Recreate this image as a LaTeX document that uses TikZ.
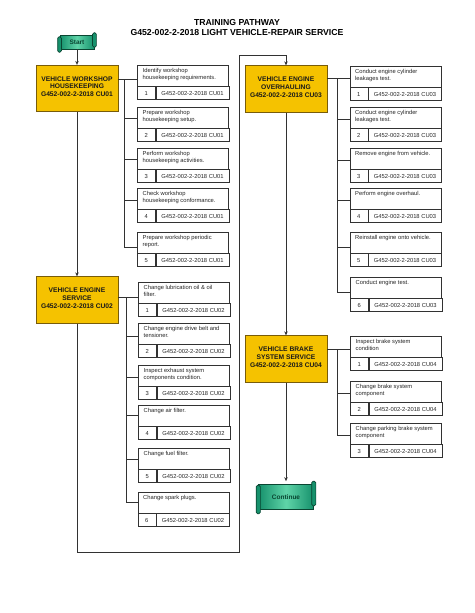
\documentclass[tikz,border=0pt]{standalone}
\usepackage{fontspec}
\setmainfont{Liberation Sans}
\usetikzlibrary{arrows.meta,calc}

\definecolor{gold}{RGB}{245,194,0}
\definecolor{goldline}{RGB}{120,92,10}
\definecolor{lineg}{RGB}{50,50,50}
\definecolor{tealA}{RGB}{22,145,108}
\definecolor{tealB}{RGB}{95,212,168}
\definecolor{tealD}{RGB}{10,70,50}

\tikzset{
 mainbox/.style={draw=goldline, fill=gold, line width=0.8pt, minimum width=82pt, minimum height=46.5pt, inner sep=0pt},
 maintext/.style={align=center, font=\fontsize{6.7}{7.7}\selectfont\bfseries, text=black!90, inner sep=0pt},
 headbox/.style={draw=lineg, line width=0.7pt, minimum width=91pt, minimum height=20.5pt, anchor=north west, inner sep=0pt},
 headtext/.style={anchor=north west, align=left, font=\fontsize{5.8}{7}\selectfont, text=black!85, inner sep=0pt},
 numbox/.style={draw=lineg, line width=0.7pt, minimum width=18pt, minimum height=13pt, anchor=north west, inner sep=0pt, font=\fontsize{5.8}{7}\selectfont, text=black!85},
 codebox/.style={draw=lineg, line width=0.7pt, minimum width=73pt, minimum height=13pt, anchor=north west, inner sep=0pt, font=\fontsize{5.8}{7}\selectfont, text=black!85},
 conn/.style={draw=lineg, line width=0.7pt},
 arr/.style={conn, -{Stealth[length=4pt,width=3.5pt]}},
 scrollbody/.style={draw=tealD, line width=0.7pt, left color=tealA, right color=tealA, middle color=tealB, font=\fontsize{6.5}{7.5}\selectfont\bfseries, text=tealD, inner sep=0pt},
 roll/.style={draw=tealD, line width=0.7pt, fill=tealA, rounded corners=1.6pt},
}

\newcommand\mytask[7]{%
 \node[headbox] (#1) at (#2,#3) {};
 \node[headtext] (#1t) at ([xshift=5.5pt,yshift=-3.5pt]#1.north west) {#4};
 \node[numbox] (#1n) at (#1.south west) {#5};
 \node[codebox] (#1c) at (#1n.north east) {#6};
 \coordinate (#1p) at ([yshift=-#7pt]#1.north west);
}

\begin{document}
\begin{tikzpicture}[x=1pt,y=-1pt]
\useasboundingbox[fill=white] (0,0) rectangle (474,613);

% title
\node[align=center, font=\fontsize{8.7}{10}\selectfont\bfseries, inner sep=0pt] (title) at (237,27.5)
 {TRAINING PATHWAY\\G452-002-2-2018 LIGHT VEHICLE-REPAIR SERVICE};

% start scroll
\node[scrollbody, minimum width=34pt, minimum height=14pt] (start) at (77,42) {Start};
\draw[roll] ([xshift=-2pt,yshift=-2pt]start.north west) rectangle ([xshift=1.8pt,yshift=-3pt]start.south west);
\draw[roll] ([xshift=-1.8pt,yshift=2pt]start.north east) rectangle ([xshift=2pt,yshift=2pt]start.south east);

% main boxes
\node[mainbox] (cu01) at (77,88.5) {};
\node[maintext] (cu01t) at ([yshift=2pt]cu01.center) {VEHICLE WORKSHOP\\HOUSEKEEPING\\G452-002-2-2018 CU01};
\node[mainbox] (cu02) at (77,300) {};
\node[maintext] (cu02t) at ([yshift=2pt]cu02.center) {VEHICLE ENGINE\\SERVICE\\G452-002-2-2018 CU02};
\node[mainbox] (cu03) at (286,89) {};
\node[maintext] (cu03t) at ([yshift=2pt]cu03.center) {VEHICLE ENGINE\\OVERHAULING\\G452-002-2-2018 CU03};
\node[mainbox] (cu04) at (286,359) {};
\node[maintext] (cu04t) at ([yshift=2pt]cu04.center) {VEHICLE BRAKE\\SYSTEM SERVICE\\G452-002-2-2018 CU04};

% continue scroll
\node[scrollbody, minimum width=55pt, minimum height=25pt] (cont) at (286,497) {Continue};
\draw[roll] ([xshift=-2pt,yshift=-1pt]cont.north west) rectangle ([xshift=2.2pt,yshift=-4pt]cont.south west);
\draw[roll] ([xshift=-2.2pt,yshift=3pt]cont.north east) rectangle ([xshift=2pt,yshift=4pt]cont.south east);

% CU01 tasks
\mytask{a1}{137}{65}{Identify workshop\\housekeeping requirements.}{1}{G452-002-2-2018 CU01}{14}
\mytask{a2}{137}{107}{Prepare workshop\\housekeeping setup.}{2}{G452-002-2-2018 CU01}{11}
\mytask{a3}{137}{148}{Perform workshop\\housekeeping activities.}{3}{G452-002-2-2018 CU01}{11}
\mytask{a4}{137}{188}{Check workshop\\housekeeping conformance.}{4}{G452-002-2-2018 CU01}{12}
\mytask{a5}{137}{232}{Prepare workshop periodic\\report.}{5}{G452-002-2-2018 CU01}{15}

% CU02 tasks
\mytask{b1}{138}{282}{Change lubrication oil \& oil\\filter.}{1}{G452-002-2-2018 CU02}{15}
\mytask{b2}{138}{323}{Change engine drive belt and\\tensioner.}{2}{G452-002-2-2018 CU02}{13}
\mytask{b3}{138}{365}{Inspect exhaust system\\components condition.}{3}{G452-002-2-2018 CU02}{12}
\mytask{b4}{138}{405}{Change air filter.}{4}{G452-002-2-2018 CU02}{10}
\mytask{b5}{138}{448}{Change fuel filter.}{5}{G452-002-2-2018 CU02}{11}
\mytask{b6}{137.5}{492}{Change spark plugs.}{6}{G452-002-2-2018 CU02}{10}

% CU03 tasks
\mytask{c1}{349.5}{66}{Conduct engine cylinder\\leakages test.}{1}{G452-002-2-2018 CU03}{12}
\mytask{c2}{349.5}{107}{Conduct engine cylinder\\leakages test.}{2}{G452-002-2-2018 CU03}{12}
\mytask{c3}{349.5}{148}{Remove engine from vehicle.}{3}{G452-002-2-2018 CU03}{12}
\mytask{c4}{349.5}{188}{Perform engine overhaul.}{4}{G452-002-2-2018 CU03}{12}
\mytask{c5}{349.5}{232}{Reinstall engine onto vehicle.}{5}{G452-002-2-2018 CU03}{15}
\mytask{c6}{350}{277}{Conduct engine test.}{6}{G452-002-2-2018 CU03}{15}

% CU04 tasks
\mytask{d1}{350}{336}{Inspect brake system\\condition}{1}{G452-002-2-2018 CU04}{13}
\mytask{d2}{350}{381}{Change brake system\\component}{2}{G452-002-2-2018 CU04}{12}
\mytask{d3}{350}{423}{Change parking brake system\\component}{3}{G452-002-2-2018 CU04}{12}

% bus coordinates
\coordinate (busa) at (124,0);
\coordinate (busb) at (126,0);
\coordinate (busc) at (337,0);
\coordinate (busd) at (337,0);

% CU01 connectors
\draw[conn] (cu01.east |- a1p) -- (a1p);
\draw[conn] (busa |- a1p) -- (busa |- a5p);
\foreach \k in {2,...,5} \draw[conn] (busa |- a\k p) -- (a\k p);

% CU02 connectors
\draw[conn] (cu02.east |- b1p) -- (b1p);
\draw[conn] (busb |- b1p) -- (busb |- b6p);
\foreach \k in {2,...,6} \draw[conn] (busb |- b\k p) -- (b\k p);

% CU03 connectors
\draw[conn] (cu03.east |- c1p) -- (c1p);
\draw[conn] (busc |- c1p) -- (busc |- c6p);
\foreach \k in {2,...,6} \draw[conn] (busc |- c\k p) -- (c\k p);

% CU04 connectors
\draw[conn] (cu04.east |- d1p) -- (d1p);
\draw[conn] (busd |- d1p) -- (busd |- d3p);
\foreach \k in {2,3} \draw[conn] (busd |- d\k p) -- (d\k p);

% flow arrows
\draw[arr] (start.south) -- (cu01.north);
\draw[arr] (cu01.south) -- (cu02.north);
\coordinate (lpB) at (239,552);
\coordinate (lpA) at (cu02.south |- lpB);
\coordinate (lpC) at (239,55);
\coordinate (lpD) at (cu03.north |- lpC);
\draw[arr] (cu02.south) -- (lpA) -- (lpB) -- (lpC) -- (lpD) -- (cu03.north);
\draw[arr] (cu03.south) -- (cu04.north);
\draw[arr] (cu04.south) -- ([yshift=3pt]cont.north);
\end{tikzpicture}
\end{document}
